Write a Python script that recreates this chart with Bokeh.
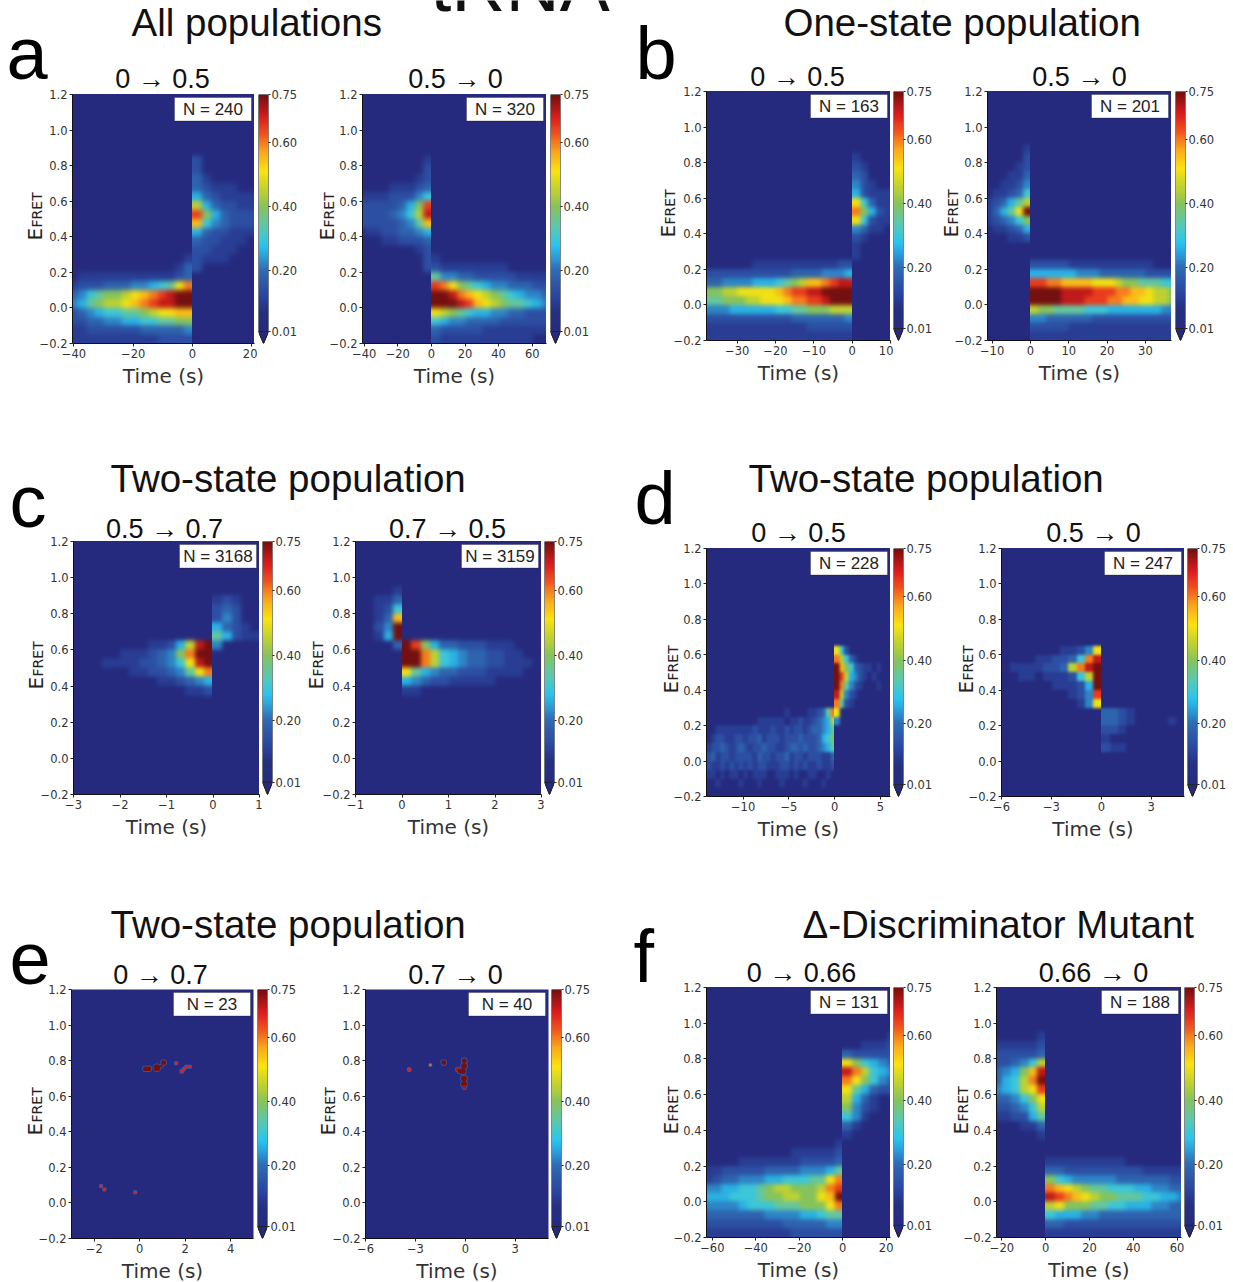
import numpy as np
from bokeh.plotting import figure
from bokeh.embed import file_html
from bokeh.resources import INLINE
from bokeh.core.properties import value
from bokeh.models import Range1d, FixedTicker, LinearColorMapper, Label, BoxAnnotation, ColumnDataSource

# ---------- data: one hex digit per cell, looked up in LEVELS; rows listed from EFRET=-0.20 upward in 0.05 steps
E_BIN = 0.05
LEVELS = [0, .10, .14, .18, .22, .26, .30, .35, .40, .45, .50, .55, .60, .65, .70, .75]
a_left = ["111111111122220000000","112222223333340000000","223344556677880000000","234566778 9aabb0000000".replace(" ",""),
          "457899abcdeeff0000000","3467889abcdeff0000000","122233344567ac0000000","011111111111230000000",
          "000000000000132000000","000000000000012111000","000000000000002211100","000000000000003221110",
          "000000000000005322111","00000000000000b643222","00000000000000d853222","000000000000009532211",
          "000000000000005321111","000000000000003211100","000000000000003100000","000000000000002000000",
          "000000000000002000000"]
a_right = ["00000000021111111111100","00000000032222211111111","00000000065443333222222","000000000a9876554433222",
           "000000000fffedba9877654","000000000ffecba98765443","000000000dca87654433322","00000000074433222221111",
           "00000000221111111100000","00000000210000000000000","00000001200000000000000","00011222300000000000000",
           "01122334500000000000000","22222347b00000000000000","22223469e00000000000000","22222358d00000000000000",
           "11112224600000000000000","00001112300000000000000","00000001200000000000000","00000000200000000000000",
           "00000000100000000000000"]
b_left = ["111111111111111111100000","111111111111122222200000","222222222223333333400000","444555555667788899900000",
          "7788899aaabccddefff00000","8899aaaaabcddeeffff00000","3344445556789bbcdee00000","222222222223333444500000",
          "000000111111111112200000","000000000000000000010000","000000000000000000010000","000000000000000000021000",
          "000000000000000000043110","0000000000000000000a6211","0000000000000000000c8521","0000000000000000000a6311",
          "000000000000000000052111","000000000000000000042100","000000000000000000032000","000000000000000000021000",
          "000000000000000000010000"]
b_right = ["0000001111111111111111111","0000002222211111111111111","0000004433333322222222222","0000009887777666555555544",
           "000000ffffeeedddccbbaa998","000000ffffeeeedddccbba998","000000ddccbbbbaaa98877766","0000005555554443333332222",
           "0000002222211111111111000","0000000000000000000000000","0000000000000000000000000","0001120000000000000000000",
           "0112350000000000000000000","1234680000000000000000000","1357af0000000000000000000","1235790000000000000000000",
           "0112360000000000000000000","0011240000000000000000000","0001130000000000000000000","0000120000000000000000000",
           "0000020000000000000000000","0000010000000000000000000"]
c_left = ["","","","","","","","","","","",
          "00000000000011200000","00000000011234500000","0000001122347ac00000","000111122346aef00000",
          "000001112348cff00000","0000000011259ef40000","00000000000000075211","00000000000000053210",
          "00000000000000024200","00000000000000023200","00000000000000012100"]
c_right = ["","","","","","","","","","","",
           "00000110000000000000","00000543221111100000","00000a75433222111100","00000ffc965433221110",
           "00000ffc965433221100","00003fd8533222111000","0015f000000000000000","0024f000000000000000",
           "0013b000000000000000","00126000000000000000","00113000000000000000","00001000000000000000"]
d_left = ["", "0010000"+"1000100"+"0010000"+"1000100", "1101011"+"0101110"+"0111010"+"0110010",
          "2112121"+"2121221"+"1122121"+"2112112", "2312212"+"2221322"+"1223122"+"1222113",
          "1223212"+"3212232"+"2112332"+"3223457", "0122112"+"2122312"+"2212223"+"2223568",
          "0011111"+"1112111"+"2112122"+"1233457", "0000000"+"0000111"+"1110112"+"1123459"+"40000000000000",
          "0000000"+"0000000"+"0001000"+"011237c"+"a0000000000000",
          "0"*28+"c7210000000000", "0"*28+"e9421000000000", "0"*28+"fc742100010000", "0"*28+"fd954210100000",
          "0"*28+"fb863211010000", "0"*28+"c9631000000000", "0"*28+"a6200000000000"]
d_right = ["","","","","","0000000000002110000000","0000000000001000000000","0000000000002210000000",
           "0000000000003321000010","0000000000003321000000","00000000014a0000000000","00000000124d0000000000",
           "00000011125f0000000000","00110111269f0000000000","011112239cef0000000000","0000112236ce0000000000",
           "00000001124a0000000000"]
f_left = ["1111111111222222000000","2222222223333344000000","3333333444455677000000","44445666777888ac000000",
          "5556667889988abf000000","44556678998889cd000000","12334445566677ac000000","1122222333344457000000",
          "0000111111122223000000","0000000000111112000000","0000000000000001000000","0000000000000000100000",
          "0000000000000000310000","0000000000000000641000","0000000000000000842100","0000000000000000953100",
          "0000000000000000a75322","0000000000000000ca8643","0000000000000000ec9654","0000000000000000a86543",
          "0000000000000000322222","0000000000000000001112","0000000000000000000001"]
f_right = ["0000001111111111111111","0000003322222222222222","0000006555443333333333","0000009a88877665554433",
           "000000edcba98877766554","000000cba9877666554433","0000008654444433333322","0000003322222222211111",
           "0000001111111110000000","0000000000000000000000","0000000000000000000000","0000010000000000000000",
           "0001130000000000000000","1122570000000000000000","2234690000000000000000","33468a0000000000000000",
           "4569ad0000000000000000","3569cf0000000000000000","3458be0000000000000000","2234690000000000000000",
           "2222230000000000000000","1111120000000000000000","0000010000000000000000"]
# isolated spots of panel e: time, EFRET, value, size
e_left_t = [0.25, 0.4, 0.75, 0.95, 1.05, 1.6, 1.85, 1.95, 2.05, 2.2, -1.7, -1.55, -0.2]
e_left_E = [0.755, 0.755, 0.76, 0.77, 0.79, 0.785, 0.74, 0.755, 0.765, 0.765, 0.095, 0.075, 0.06]
e_left_v = [0.75, 0.75, 0.75, 0.75, 0.75, 0.68, 0.68, 0.68, 0.68, 0.68, 0.68, 0.68, 0.68]
e_left_s = [5, 5, 7, 3, 5, 3, 3.5, 3, 3, 3, 3, 3, 3]
e_right_t = [-3.37, -2.1, -1.3, -0.45, -0.3, -0.15, -0.08, -0.06, -0.08, -0.08, -0.05]
e_right_E = [0.75, 0.775, 0.79, 0.75, 0.74, 0.74, 0.77, 0.80, 0.70, 0.67, 0.65]
e_right_v = [0.68, 0.62, 0.75, 0.72, 0.75, 0.75, 0.75, 0.75, 0.75, 0.75, 0.72]
e_right_s = [3.5, 2.5, 5, 4, 5, 6, 6, 5, 6, 6, 4]

efret_ticks = [-0.2, 0.0, 0.2, 0.4, 0.6, 0.8, 1.0, 1.2]
cbar_ticks = [0.01, 0.20, 0.40, 0.60, 0.75]
cbar_low, cbar_high = 0.01, 0.75

# name, frame l, r, t, b, time range, time ticks, first bin, bin width, cells, N, subtitle, subtitle x,y, EFRET x,y, cbar x, softening
panels = [
 ("a_l", 72, 254, 94, 343, (-40.5, 21), [-40,-20,0,20], -42, 3, a_left, 240, "0 → 0.5", 162, 88, 42, 240, 258, 2.4),
 ("a_r", 362, 546, 94, 343, (-41, 68.5), [-40,-20,0,20,40,60], -45, 5, a_right, 320, "0.5 → 0", 455, 88, 334, 240, 550, 2.4),
 ("b_l", 706, 890, 91, 340, (-38, 10), [-30,-20,-10,0,10], -38, 2, b_left, 163, "0 → 0.5", 797, 86, 675, 237, 893, 2.0),
 ("b_r", 987, 1171, 91, 340, (-11.2, 36.8), [-10,0,10,20,30], -12, 2, b_right, 201, "0.5 → 0", 1079, 86, 958, 237, 1175, 2.0),
 ("c_l", 73, 259, 541, 794, (-3, 1), [-3,-2,-1,0,1], -3, 0.2, c_left, 3168, "0.5 → 0.7", 164, 538, 43, 689, 262, 2.2),
 ("c_r", 355, 541, 541, 794, (-1, 3), [-1,0,1,2,3], -1, 0.2, c_right, 3159, "0.7 → 0.5", 447, 538, 323, 689, 544, 2.2),
 ("d_l", 706, 890, 548, 796, (-14, 6.1), [-10,-5,0,5], -14, 0.5, d_left, 228, "0 → 0.5", 798, 542, 678, 693, 893, 1.5),
 ("d_r", 1001, 1184, 548, 796, (-6, 5), [-6,-3,0,3], -6, 0.5, d_right, 247, "0.5 → 0", 1093, 542, 973, 693, 1187, 1.8),
 ("e_l", 71, 253, 989, 1238, (-3, 5), [-2,0,2,4], None, None, None, 23, "0 → 0.7", 160, 984, 42, 1135, 257, 0),
 ("e_r", 365, 548, 989, 1238, (-6, 5), [-6,-3,0,3], None, None, None, 40, "0.7 → 0", 455, 984, 335, 1135, 551, 0),
 ("f_l", 706, 890, 987, 1237, (-62.7, 22), [-60,-40,-20,0,20], -64, 4, f_left, 131, "0 → 0.66", 801, 982, 678, 1134, 893, 2.2),
 ("f_r", 996, 1181, 987, 1237, (-22.5, 62), [-20,0,20,40,60], -24, 4, f_right, 188, "0.66 → 0", 1093, 982, 968, 1134, 1184, 2.2),
]
big_titles = [("tRNA", 430, 11, 75), ("All populations", 131, 36, 38.5), ("One-state population", 783, 36, 38.5),
              ("Two-state population", 110, 492, 38.5), ("Two-state population", 748, 492, 38.5),
              ("Two-state population", 110, 938, 38.5), ("Δ-Discriminator Mutant", 802, 938, 38.5)]
letters = [("a", 6, 80), ("b", 635, 80), ("c", 9, 528), ("d", 634, 525), ("e", 9, 985), ("f", 633, 983)]

stops_v = [0.00, 0.07, 0.12, 0.15, 0.20, 0.25, 0.28, 0.33, 0.40, 0.46, 0.51, 0.57, 0.63, 0.68, 0.72, 0.75]
stops_c = ["#252a7e", "#25307f", "#2a45a0", "#2d55a5", "#2f6cb5", "#2aa8e0", "#2bc5ee", "#55c8b8", "#86c35c",
           "#c8d42a", "#fbe30f", "#f9a81c", "#f0501e", "#dc1e1e", "#a31515", "#751010"]

rgb = np.array([[int(c[i:i+2], 16) for i in (1, 3, 5)] for c in stops_c], float)
lv = np.linspace(0, 0.75, 256)
palette = ["#%02x%02x%02x" % tuple(int(round(np.interp(v, stops_v, rgb[:, k]))) for k in range(3)) for v in lv]
mapper = LinearColorMapper(palette=palette, low=0, high=0.75)
NAVY = stops_c[0]
TICK = "#333333"
SANS = "Liberation Sans"
DEJA = "DejaVu Sans"
PAD = 8       # hidden margin round a soft heat layer, px
BASE = 0.36   # the text baseline lands this many em lower than asked


def place(fig, x, y, **extra):
    fig.styles = {"position": "absolute", "left": f"{x}px", "top": f"{y}px", **extra}


def minus(t, fmt):
    return fmt(t).replace("-", "−")


def parse(rows):
    ncol = max(len(r) for r in rows)
    arr = np.zeros((int(round(1.4 / E_BIN)), ncol))
    for i, r in enumerate(rows):
        for j, ch in enumerate(r):
            arr[i, j] = LEVELS[int(ch, 16)]
    return arr


def heat_layer(arr, x0, bw, xr, l, r, t, b, clip_left, clip_right, soft):
    """One side of the step at t = 0, drawn as a softened image and cut at the step."""
    fw, fh = r - l, b - t
    xs = (xr[1] - xr[0]) / fw
    ys = 1.4 / fh
    padded = np.pad(arr, 2, mode="edge")
    f = figure(width=fw + 2 * PAD, height=fh + 2 * PAD, toolbar_location=None, output_backend="svg",
               x_range=Range1d(xr[0] - PAD * xs, xr[1] + PAD * xs),
               y_range=Range1d(-0.2 - PAD * ys, 1.2 + PAD * ys),
               min_border=0, min_border_left=0, min_border_right=0, min_border_top=0, min_border_bottom=0,
               x_axis_location=None, y_axis_location=None, outline_line_color=None,
               background_fill_color=NAVY, border_fill_color=None)
    f.grid.visible = False
    f.image(image=[padded], x=x0 - 2 * bw, y=-0.2 - 2 * E_BIN, dw=padded.shape[1] * bw, dh=padded.shape[0] * E_BIN,
            color_mapper=mapper)
    place(f, l - PAD, t - PAD, filter=f"blur({soft}px)",
          **{"clip-path": f"inset({PAD}px {PAD + (r - clip_right)}px {PAD}px {PAD + (clip_left - l)}px)"})
    return f


bg = figure(width=1233, height=1282, x_range=Range1d(0, 1233), y_range=Range1d(1282, 0),
            toolbar_location=None, output_backend="svg", min_border=0, min_border_left=0, min_border_right=0,
            min_border_top=0, min_border_bottom=0, outline_line_color=None, x_axis_location=None, y_axis_location=None)
bg.grid.visible = False
place(bg, 0, 0)
for txt, x, y, size in big_titles:
    bg.text([x], [y - BASE * size], text=[txt], text_font=value(SANS), text_font_size=f"{size}px", text_baseline="alphabetic", text_color="#111111")
for txt, x, y in letters:
    bg.text([x], [y - BASE * 74], text=[txt], text_font=value(SANS), text_font_size="74px", text_baseline="alphabetic", text_color="#000000")

figs = [bg]
for name, l, r, t, b, xr, xt, x0, bw, cells, n, sub, sx, sy, ex, ey, cx, soft in panels:
    bg.text([sx], [sy - BASE * 27], text=[sub], text_font=value(SANS), text_font_size="27px", text_align="center",
            text_baseline="alphabetic", text_color="#111111")
    bg.text([ex - BASE * 20], [ey], text=["E"], angle=[np.pi / 2], text_font=value(DEJA), text_font_size="20px",
            text_baseline="alphabetic", text_color="#222222")
    bg.text([ex - BASE * 14], [ey - 13], text=["FRET"], angle=[np.pi / 2], text_font=value(DEJA), text_font_size="14px",
            text_baseline="alphabetic", text_color="#222222")

    fw, fh = r - l, b - t
    ml, mt, mb = 60, 8, 60
    if cells is not None:
        arr = parse(cells)
        k = int(round((0 - x0) / bw))
        zero = int(round(l + (0 - xr[0]) / (xr[1] - xr[0]) * fw))
        pre = arr.copy()
        pre[:, k:] = arr[:, k - 1:k]
        post = arr.copy()
        post[:, :k] = arr[:, k:k + 1]
        figs.append(heat_layer(pre, x0, bw, xr, l, r, t, b, l, zero, soft))
        figs.append(heat_layer(post, x0, bw, xr, l, r, t, b, zero, r, soft))
    p = figure(width=fw + ml + 3, height=fh + mt + mb, frame_width=fw, frame_height=fh,
               x_range=Range1d(*xr), y_range=Range1d(-0.2, 1.2), toolbar_location=None, output_backend="svg",
               min_border_left=ml, min_border_right=3, min_border_top=mt, min_border_bottom=mb,
               background_fill_color=None if cells is not None else NAVY, border_fill_color=None, outline_line_color=None)
    p.grid.visible = False
    if cells is None:
        ts, es, vs, ss = (e_left_t, e_left_E, e_left_v, e_left_s) if name == "e_l" else (e_right_t, e_right_E, e_right_v, e_right_s)
        src = ColumnDataSource(dict(t=ts, E=es, v=vs, s=[s + 1.5 for s in ss], c=[palette[int(v / 0.75 * 255)] for v in vs], s0=ss))
        p.scatter("t", "E", size="s", source=src, color="#2f5fb0", line_color=None)
        p.scatter("t", "E", size="s0", source=src, color="c", line_color=None)
    p.xaxis.ticker = FixedTicker(ticks=xt)
    p.xaxis.major_label_overrides = {v: minus(v, lambda q: str(q)) for v in xt}
    p.yaxis.ticker = FixedTicker(ticks=efret_ticks)
    p.yaxis.major_label_overrides = {v: minus(v, lambda q: f"{q:.1f}") for v in efret_ticks}
    for ax in (p.xaxis[0], p.yaxis[0]):
        ax.major_label_text_font = DEJA
        ax.major_label_text_font_size = "11.5px"
        ax.major_label_text_color = TICK
        ax.axis_line_color = "#111111"
        ax.major_tick_line_color = "#222222"
        ax.major_tick_out = 3
        ax.major_tick_in = 0
        ax.minor_tick_line_color = None
        ax.major_label_standoff = 2
    p.xaxis.axis_label = "Time (s)"
    p.xaxis.axis_label_text_font = DEJA
    p.xaxis.axis_label_text_font_size = "20px"
    p.xaxis.axis_label_text_font_style = "normal"
    p.xaxis.axis_label_text_color = "#333333"
    p.xaxis.axis_label_standoff = 3
    # N box
    box = BoxAnnotation(left=ml + fw - 80, right=ml + fw - 3, top=mt + 3, bottom=mt + 26.5,
                        left_units="canvas", right_units="canvas", top_units="canvas", bottom_units="canvas",
                        fill_color="white", fill_alpha=1, line_color="#111111", line_width=1, level="overlay")
    p.add_layout(box)
    p.add_layout(Label(x=fw - 41.5, y=fh - 15, x_units="screen", y_units="screen", text=f"N = {n}",
                       text_font=SANS, text_font_size="17px", text_color="#222222",
                       text_align="center", text_baseline="middle", level="overlay"))
    place(p, l - ml, t - mt)
    figs.append(p)

    # colour bar
    lo = cbar_low - 12.0 / 237.0 * (cbar_high - cbar_low) * fh / 249.0
    cb = figure(width=10 + 40, height=fh + 16, frame_width=10, frame_height=fh,
                x_range=Range1d(0, 1), y_range=Range1d(lo, cbar_high), toolbar_location=None, output_backend="svg",
                min_border_left=0, min_border_right=40, min_border_top=8, min_border_bottom=8,
                border_fill_color=None, outline_line_color=None, y_axis_location="right", x_axis_location=None)
    cb.grid.visible = False
    grad = np.linspace(cbar_low, cbar_high, 256).reshape(-1, 1)
    cb.image(image=[grad], x=0, y=cbar_low, dw=1, dh=cbar_high - cbar_low, color_mapper=mapper)
    cb.patch([0, 1, 1, 0.5, 0], [cbar_high, cbar_high, cbar_low, lo, cbar_low], fill_color=None, line_color="#222222", line_width=1)
    cb.patch([0, 1, 0.5], [cbar_low, cbar_low, lo], fill_color=NAVY, line_color="#222222", line_width=1)
    ax = cb.yaxis[0]
    ax.ticker = FixedTicker(ticks=cbar_ticks)
    ax.major_label_overrides = {v: f"{v:.2f}" for v in cbar_ticks}
    ax.major_label_text_font = DEJA
    ax.major_label_text_font_size = "11.5px"
    ax.major_label_text_color = TICK
    ax.axis_line_color = None
    ax.major_tick_line_color = "#222222"
    ax.major_tick_out = 2
    ax.major_tick_in = 0
    ax.minor_tick_line_color = None
    ax.major_label_standoff = 1
    place(cb, cx, t - 8)
    figs.append(cb)

open("out.html", "w").write(file_html(figs, INLINE))
